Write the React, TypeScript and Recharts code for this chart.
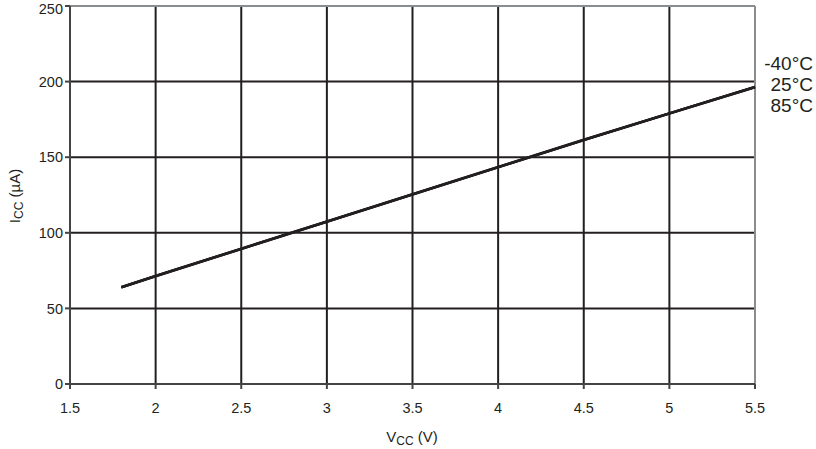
import { LineChart, Line, XAxis, YAxis, CartesianGrid, ReferenceLine } from 'recharts';

const VCC = [1.8, 2, 2.5, 3, 3.5, 4, 4.5, 5, 5.5];
const ICC_M40 = [64, 71.5, 89.5, 107.5, 125.5, 143.5, 161.5, 179, 196.5];
const ICC_25 = [64, 71.4, 89.4, 107.4, 125.4, 143.4, 161.4, 179, 196.4];
const ICC_85 = [64, 71.3, 89.3, 107.3, 125.3, 143.3, 161.3, 178.9, 196.3];
const SERIES = ['-40°C', '25°C', '85°C'];
const X_TICKS = [1.5, 2, 2.5, 3, 3.5, 4, 4.5, 5, 5.5];
const Y_TICKS = [0, 50, 100, 150, 200, 250];

const data = VCC.map((v, i) => ({ v, a: ICC_M40[i], b: ICC_25[i], c: ICC_85[i] }));

const FONT = '"Liberation Sans", Arial, sans-serif';
const INK = '#231f20';

const endLabel = (name: string, dy: number) => (props: any) => {
  if (props.index !== VCC.length - 1) return null;
  return (
    <text x={813} y={props.y + dy} textAnchor="end" fontSize={19} fontFamily={FONT} fill={INK}>
      {name}
    </text>
  );
};

const YTitle = () => (
  <text transform="translate(20,196) rotate(-90)" textAnchor="middle" fontSize={15} fontFamily={FONT} fill={INK}>
    I<tspan fontSize={12} dy={3}>CC</tspan>
    <tspan dy={-3}> (µA)</tspan>
  </text>
);

const XTitle = () => (
  <text x={412} y={442} textAnchor="middle" fontSize={15} fontFamily={FONT} fill={INK}>
    V<tspan fontSize={12} dy={3}>CC</tspan>
    <tspan dy={-3}> (V)</tspan>
  </text>
);

export default function App() {
  return (
    <div style={{ position: 'absolute', left: 0, top: 0, background: '#fff' }}>
      <LineChart width={816} height={449} data={data} margin={{ top: 6, right: 61, bottom: 25, left: 30 }}>
        <CartesianGrid
          stroke={INK}
          strokeWidth={2}
          horizontalValues={[50, 100, 150, 200]}
          verticalValues={[2, 2.5, 3, 3.5, 4, 4.5, 5]}
        />
        <ReferenceLine y={250} stroke="#8a8d90" strokeWidth={2} />
        <ReferenceLine x={5.5} stroke="#8a8d90" strokeWidth={2} />
        <XAxis
          dataKey="v"
          type="number"
          domain={[1.5, 5.5]}
          ticks={X_TICKS}
          height={40}
          tickSize={5}
          stroke="#444"
          strokeWidth={2}
          tick={{ fill: INK, fontSize: 14.5, fontFamily: FONT, dy: 12 }}
          tickFormatter={(t: number) => String(t)}
        />
        <YAxis
          type="number"
          domain={[0, 250]}
          ticks={Y_TICKS}
          width={40}
          tickSize={5}
          stroke="#444"
          strokeWidth={2}
          tick={{ fill: INK, fontSize: 14.5, fontFamily: FONT }}
        />
        <Line dataKey="a" name={SERIES[0]} stroke={INK} strokeWidth={2.5} dot={false} isAnimationActive={false} label={endLabel(SERIES[0], -17)} />
        <Line dataKey="b" name={SERIES[1]} stroke={INK} strokeWidth={2.5} dot={false} isAnimationActive={false} label={endLabel(SERIES[1], 4)} />
        <Line dataKey="c" name={SERIES[2]} stroke={INK} strokeWidth={2.5} dot={false} isAnimationActive={false} label={endLabel(SERIES[2], 25)} />
        <YTitle />
        <XTitle />
      </LineChart>
    </div>
  );
}
